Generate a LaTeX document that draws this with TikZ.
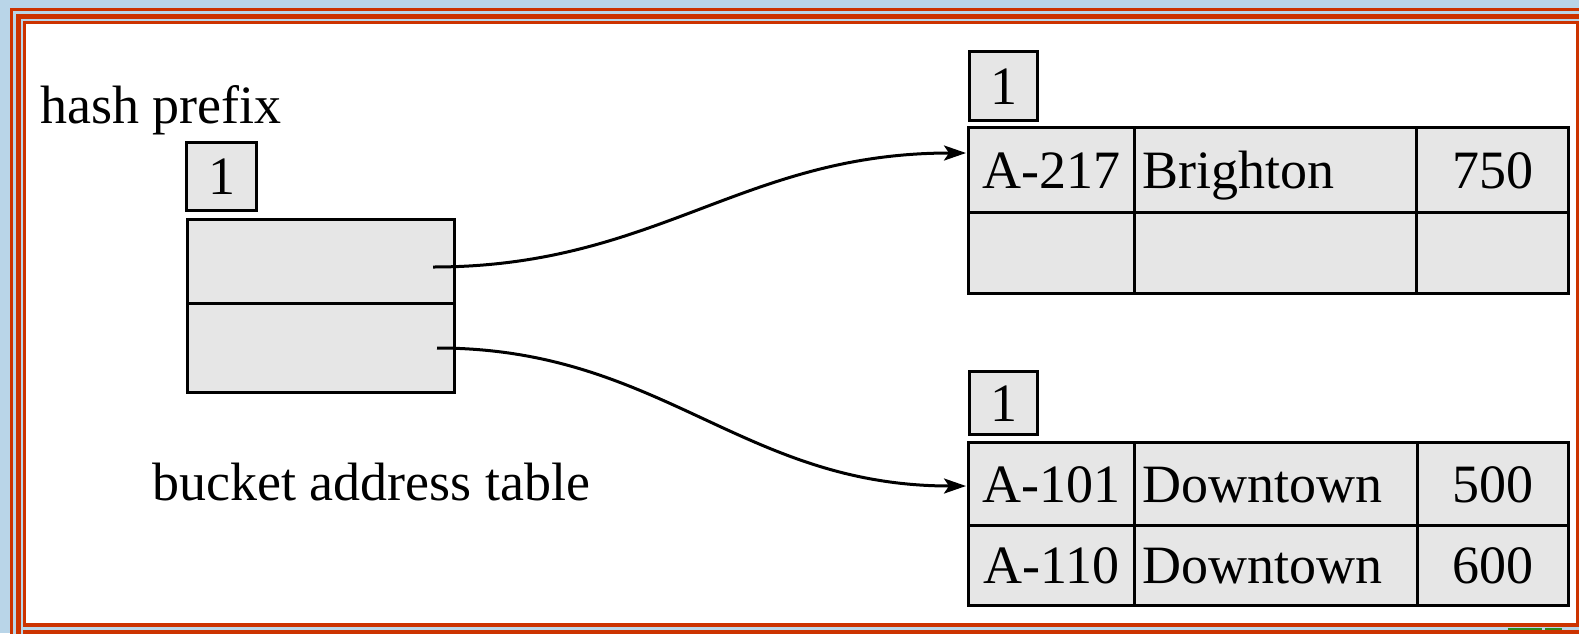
\documentclass[tikz,border=0pt]{standalone}
\usepackage{fontspec}
\setmainfont{Liberation Serif}
\usetikzlibrary{arrows.meta}
\definecolor{bgblue}{HTML}{B9D5E8}
\definecolor{framered}{HTML}{CC3300}
\definecolor{cellgray}{HTML}{E6E6E6}
\definecolor{slidegreen}{HTML}{2E8B1E}
\begin{document}
\begin{tikzpicture}[x=1pt,y=-1pt,
  cell/.style={draw=black, fill=cellgray, line width=3pt, inner sep=0pt,
    font=\fontsize{54}{60}\selectfont, text height=36pt, text depth=0pt,
    anchor=north west},
  lcell/.style={cell, align=left, inner xsep=8pt},
  lbl/.style={font=\fontsize{54}{60}\selectfont, inner sep=0pt, anchor=base west},
  link/.style={line width=3pt, -{Stealth[length=22pt,width=15pt,inset=5pt]}}
]
\useasboundingbox (0,0) rectangle (1579,633);
\clip (0,0) rectangle (1579,633);
% slide frame
\fill[bgblue] (0,0) rectangle (1579,633);
\fill[framered] (10,8) rectangle (1590,640);
\fill[bgblue] (13,11) rectangle (1590,640);
\fill[framered] (16,13.7) rectangle (1590,640);
\fill[bgblue] (21,19) rectangle (1590,640);
\fill[framered] (23,20.7) rectangle (1590,640);
\fill[bgblue] (21,627) rectangle (1590,630);
\fill[white] (26,24) rectangle (1576,623);
\fill[slidegreen] (1508,627.5) rectangle (1542,630);
\fill[slidegreen] (1545,627.5) rectangle (1562,630);

% labels
\node[lbl] (hp) at (40,123) {hash prefix};
\node[lbl] (bat) at (152,500) {bucket address table};

% bucket address table
\node[cell, minimum width=70pt, minimum height=68pt] (gd) at (185,141) {1};
\node[cell, minimum width=267pt, minimum height=84pt] (ba1) at (186,218) {};
\node[cell, minimum width=267pt, minimum height=89pt] (ba2) at (186,302) {};

% bucket 1
\node[cell, minimum width=68pt, minimum height=69pt] (ld1) at (968,50) {1};
\node[cell, minimum width=166pt, minimum height=85pt] (t1a) at (967,126) {A-217};
\node[lcell, minimum width=282pt, minimum height=85pt, text width=266pt] (t1b) at (1133,126) {Brighton};
\node[cell, minimum width=152pt, minimum height=85pt] (t1c) at (1415,126) {750};
\node[cell, minimum width=166pt, minimum height=81pt] (t1d) at (967,211) {};
\node[cell, minimum width=282pt, minimum height=81pt] (t1e) at (1133,211) {};
\node[cell, minimum width=152pt, minimum height=81pt] (t1f) at (1415,211) {};

% bucket 2
\node[cell, minimum width=68pt, minimum height=63pt] (ld2) at (968,370) {1};
\node[cell, minimum width=166pt, minimum height=83pt] (t2a) at (967,441) {A-101};
\node[lcell, minimum width=283pt, minimum height=83pt, text width=267pt] (t2b) at (1133,441) {Downtown};
\node[cell, minimum width=151pt, minimum height=83pt] (t2c) at (1416,441) {500};
\node[cell, minimum width=166pt, minimum height=80pt] (t2d) at (967,524) {A-110};
\node[lcell, minimum width=283pt, minimum height=80pt, text width=267pt] (t2e) at (1133,524) {Downtown};
\node[cell, minimum width=151pt, minimum height=80pt] (t2f) at (1416,524) {600};

% pointers
\coordinate (s1) at (433,267);
\coordinate (e1) at (966,153);
\coordinate (s2) at (437,348);
\coordinate (e2) at (966,486);
\draw[link] (s1) to[out=0,in=180,looseness=1.05] (e1);
\draw[link] (s2) to[out=0,in=180,looseness=1.05] (e2);
\end{tikzpicture}
\end{document}
